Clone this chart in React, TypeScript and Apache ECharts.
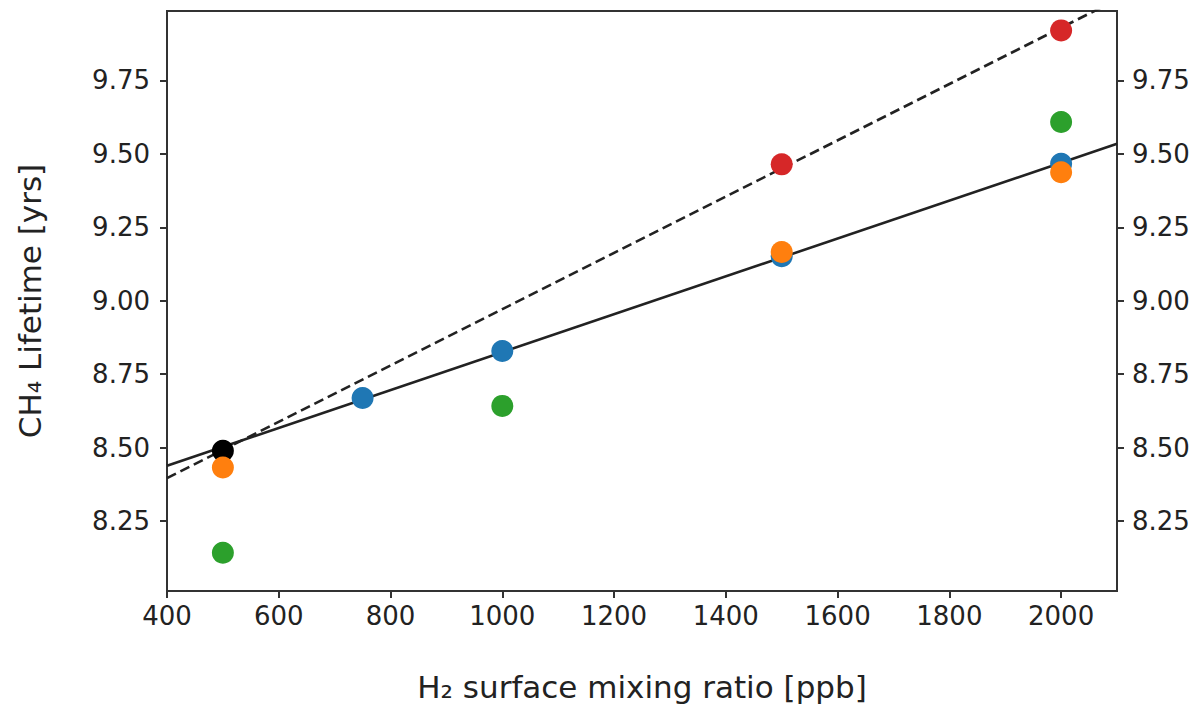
import React, { useEffect, useRef } from "react";
import * as echarts from "echarts";

const xTicks = [400, 600, 800, 1000, 1200, 1400, 1600, 1800, 2000];
const yTicks = [8.25, 8.5, 8.75, 9.0, 9.25, 9.5, 9.75];

const blueX = [750, 1000, 1500, 2000];
const blueY = [8.669, 8.829, 9.151, 9.466];
const blackX = [500];
const blackY = [8.489];
const orangeX = [500, 1500, 2000];
const orangeY = [8.432, 9.166, 9.437];
const greenX = [500, 1000, 2000];
const greenY = [8.142, 8.642, 9.608];
const redX = [1500, 2000];
const redY = [9.464, 9.92];

const solidFitX = [400, 2100];
const solidFitY = [8.438, 9.534];
const dashedFitX = [400, 2100];
const dashedFitY = [8.396, 10.025];

const zip = (xs: number[], ys: number[]) => xs.map((x, i) => [x, ys[i]]);

const FONT = "DejaVu Sans";
const TXT = "#222";
const AX = "#333";

export default function App() {
  const ref = useRef<HTMLDivElement>(null);
  useEffect(() => {
    document.body.style.margin = "0";
    const chart = echarts.init(ref.current!, null, { renderer: "svg" });
    const yAxisBase = (pos: "left" | "right", margin: number) => ({
      type: "value" as const,
      position: pos,
      min: 8.012,
      max: 9.986,
      axisLine: { show: true, lineStyle: { color: AX, width: 2 } },
      axisTick: { show: true, length: 7, lineStyle: { color: AX, width: 2 }, customValues: yTicks },
      axisLabel: {
        customValues: yTicks,
        formatter: (v: number) => v.toFixed(2),
        fontFamily: FONT,
        fontSize: 26,
        color: TXT,
        margin,
      },
      splitLine: { show: false },
    });
    chart.setOption({
      animation: false,
      grid: {
        left: 167,
        right: 85,
        top: 11,
        bottom: 118,
        show: true,
        borderColor: AX,
        borderWidth: 2,
        containLabel: false,
      },
      xAxis: {
        type: "value",
        min: 400,
        max: 2100,
        name: "H₂ surface mixing ratio [ppb]",
        nameLocation: "middle",
        nameGap: 80,
        nameTextStyle: { fontFamily: FONT, fontSize: 31, color: TXT },
        axisLine: { show: true, lineStyle: { color: AX, width: 2 } },
        axisTick: { show: true, length: 7, lineStyle: { color: AX, width: 2 }, customValues: xTicks },
        axisLabel: {
          customValues: xTicks,
          formatter: (v: number) => String(v),
          fontFamily: FONT,
          fontSize: 26,
          color: TXT,
          margin: 12,
        },
        splitLine: { show: false },
      },
      yAxis: [
        {
          ...yAxisBase("left", 17),
          name: "CH₄ Lifetime [yrs]",
          nameLocation: "middle",
          nameRotate: 90,
          nameGap: 122,
          nameTextStyle: { fontFamily: FONT, fontSize: 31, color: TXT },
        },
        yAxisBase("right", 15),
      ],
      series: [
        {
          type: "line",
          data: zip(dashedFitX, dashedFitY),
          symbol: "none",
          clip: true,
          z: 1,
          lineStyle: { color: "#222", width: 2.6, type: [10, 5] },
        },
        {
          type: "line",
          data: zip(solidFitX, solidFitY),
          symbol: "none",
          clip: true,
          z: 1,
          lineStyle: { color: "#222", width: 2.6 },
        },
        { type: "scatter", data: zip(blueX, blueY), symbolSize: 22, z: 2, itemStyle: { color: "#1f77b4", opacity: 1 } },
        { type: "scatter", data: zip(blackX, blackY), symbolSize: 22, z: 3, itemStyle: { color: "#000000", opacity: 1 } },
        { type: "scatter", data: zip(orangeX, orangeY), symbolSize: 22, z: 4, itemStyle: { color: "#ff7f0e", opacity: 1 } },
        { type: "scatter", data: zip(greenX, greenY), symbolSize: 22, z: 5, itemStyle: { color: "#2ca02c", opacity: 1 } },
        { type: "scatter", data: zip(redX, redY), symbolSize: 22, z: 6, itemStyle: { color: "#d62728", opacity: 1 } },
      ],
    });
    return () => chart.dispose();
  }, []);
  return <div ref={ref} style={{ width: 1202, height: 709 }} />;
}
